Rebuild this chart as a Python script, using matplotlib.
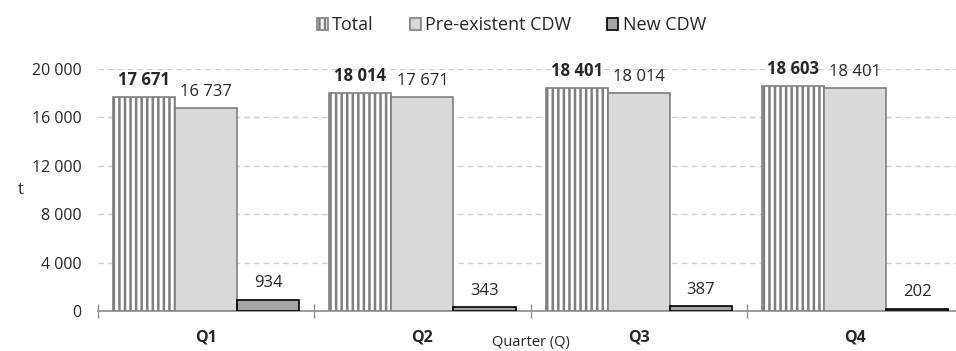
import numpy as np
import matplotlib.pyplot as plt
from matplotlib.ticker import FuncFormatter

quarters = ['Q1', 'Q2', 'Q3', 'Q4']
total = [17671, 18014, 18401, 18603]
pre_existent = [16737, 17671, 18014, 18401]
new_cdw = [934, 343, 387, 202]

plt.rcParams['font.family'] = ['Open Sans', 'DejaVu Sans']
plt.rcParams['hatch.linewidth'] = 1.8
text_color = '#262626'


def fmt(v):
    return f"{v:,.0f}".replace(',', ' ')


fig = plt.figure(figsize=(9.56, 3.51), dpi=100)
ax = fig.add_axes([0.1025, 0.114, 0.905, 0.6895])

x = np.arange(len(quarters))
w = 0.287

b_total = ax.bar(x - w, total, w, color='white', edgecolor='#7f7f7f', hatch='|||',
                 linewidth=1.2, label='Total', zorder=3)
b_pre = ax.bar(x, pre_existent, w, color='#d9d9d9', edgecolor='#7f7f7f',
               linewidth=1.2, label='Pre-existent CDW', zorder=3)
b_new = ax.bar(x + w, new_cdw, w, color='#a6a6a6', edgecolor='black',
               linewidth=1.2, label='New CDW', zorder=3)

for bars, vals, weight in [(b_total, total, 'bold'), (b_pre, pre_existent, 'normal'),
                           (b_new, new_cdw, 'normal')]:
    for rect, v in zip(bars, vals):
        ax.annotate(fmt(v), (rect.get_x() + rect.get_width() / 2, v),
                    xytext=(0, 6), textcoords='offset points', ha='center', va='bottom',
                    fontsize=12, fontweight=weight, color=text_color, annotation_clip=False)

ax.set_xlim(-0.5, 3.5)
ax.set_ylim(0, 20000)
ax.set_yticks(np.arange(0, 20001, 4000))
ax.yaxis.set_major_formatter(FuncFormatter(lambda v, p: fmt(v)))
ax.grid(axis='y', linestyle=(0, (4, 3)), color='#d0d0d0', linewidth=1, zorder=0)

ax.set_xticks(x)
ax.set_xticklabels(quarters, fontweight='bold', fontsize=11.5, color=text_color)
ax.set_xticks(np.arange(-0.5, 4, 1), minor=True)
ax.tick_params(axis='x', which='major', length=0, pad=13)
ax.tick_params(axis='x', which='minor', length=10, direction='inout', color='#8c8c8c', width=1)
ax.tick_params(axis='y', length=0, labelsize=11.5, labelcolor=text_color, pad=12)

for s in ['top', 'right', 'left']:
    ax.spines[s].set_visible(False)
ax.spines['bottom'].set_color('#8c8c8c')
ax.spines['bottom'].set_linewidth(1.2)

ax.set_xlabel('Quarter (Q)', fontsize=10.5, color=text_color, labelpad=-7)
ax.set_ylabel('t', fontsize=12, color=text_color, rotation=0, labelpad=8, va='center')

fig.legend(loc='upper center', bbox_to_anchor=(0.535, 1.0), ncol=3, frameon=False,
           fontsize=13, handlelength=0.6, handleheight=0.6, handletextpad=0.25,
           columnspacing=2.0, labelcolor=text_color)

fig.savefig('out.png', dpi=100)
